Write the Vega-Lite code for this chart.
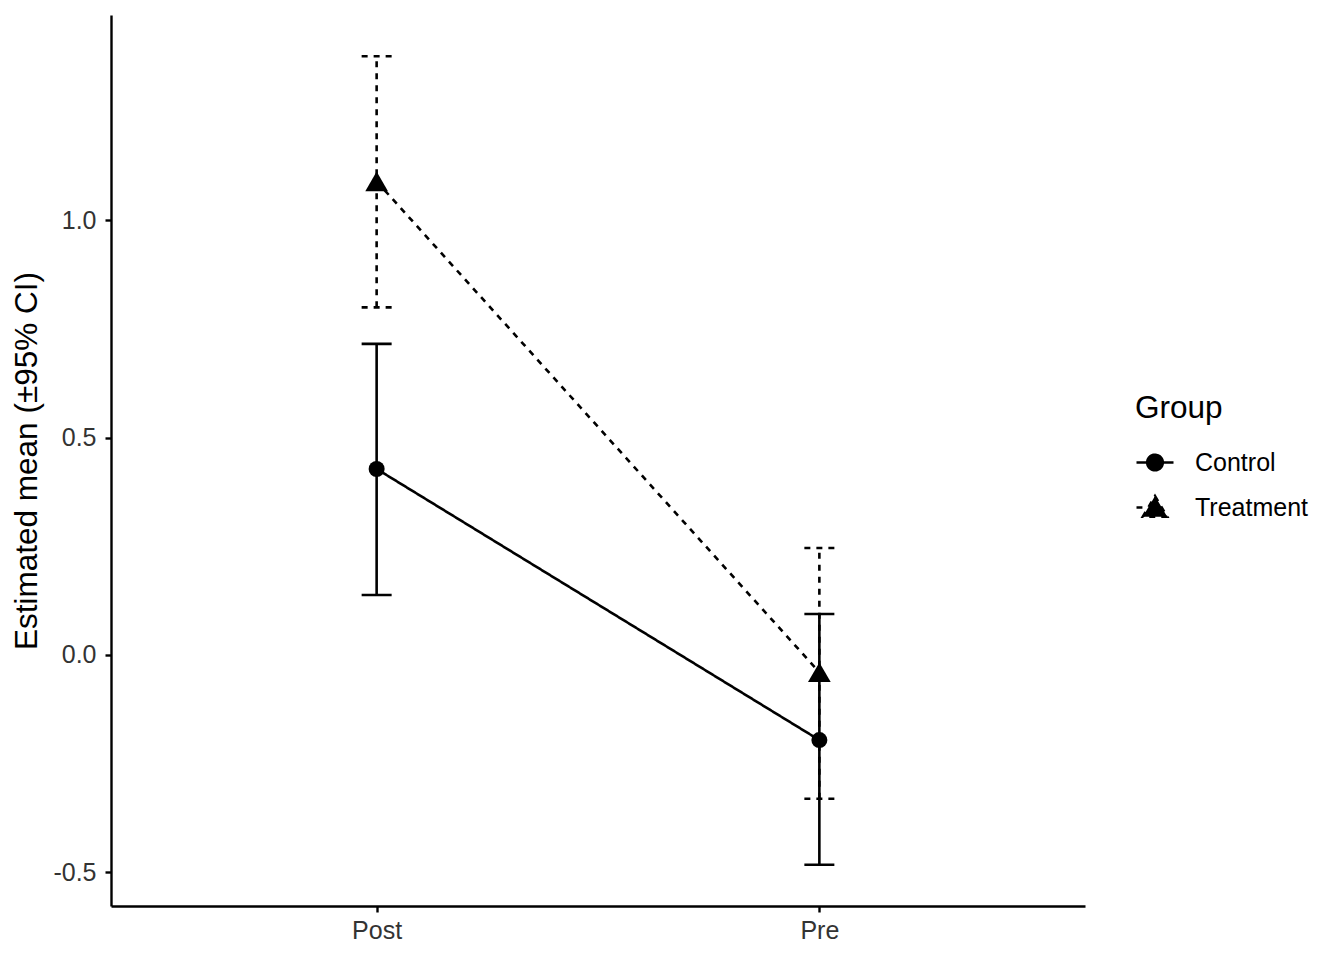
{
  "$schema": "https://vega.github.io/schema/vega-lite/v6.json",
  "autosize": {"type": "none"},
  "padding": {"left": 111, "top": 15, "right": 259, "bottom": 54},
  "width": 974,
  "height": 891,
  "background": "white",
  "config": {
    "font": "Liberation Sans",
    "view": {"stroke": null}
  },
  "data": {"values": [
    {"time": "Post", "group": "Control", "mean": 0.428, "lo": 0.138, "hi": 0.716},
    {"time": "Pre", "group": "Control", "mean": -0.196, "lo": -0.483, "hi": 0.094},
    {"time": "Post", "group": "Treatment", "mean": 1.09, "lo": 0.80, "hi": 1.378},
    {"time": "Pre", "group": "Treatment", "mean": -0.04, "lo": -0.331, "hi": 0.246}
  ]},
  "encoding": {
    "x": {"field": "time", "type": "nominal", "sort": ["Post", "Pre"], "scale": {"type": "point", "padding": 0.6},
      "axis": {"title": null, "labelAngle": 0, "labelPadding": 6, "grid": false, "domainColor": "black", "domainWidth": 2.4, "tickColor": "black", "tickWidth": 2.4, "tickSize": 6, "labelFontSize": 25, "labelColor": "#333333", "labelFont": "Liberation Sans"}}
  },
  "layer": [
    {
      "mark": {"type": "rule", "strokeWidth": 2.6, "color": "black"},
      "encoding": {
        "y": {"field": "lo", "type": "quantitative", "scale": {"domain": [-0.578, 1.473], "nice": false, "zero": false},
          "axis": {"title": "Estimated mean (±95% CI)", "values": [-0.5, 0, 0.5, 1.0], "format": ".1f", "labelExpr": "replace(datum.label, '−', '-')", "labelPadding": 9, "titlePadding": 9, "grid": false, "domainColor": "black", "domainWidth": 2.4, "tickColor": "black", "tickWidth": 2.4, "tickSize": 6, "labelFontSize": 25, "labelColor": "#333333", "labelFont": "Liberation Sans", "titleFont": "Liberation Sans", "titleFontWeight": "normal", "titleFontSize": 31.5, "titleColor": "black"}},
        "y2": {"field": "hi"},
        "strokeDash": {"field": "group", "type": "nominal", "scale": {"domain": ["Control", "Treatment"], "range": [[1, 0], [6, 6]]},
          "legend": {
            "title": "Group", "orient": "none", "legendX": 1024, "legendY": 378, "padding": 0,
            "titleFont": "Liberation Sans", "labelFont": "Liberation Sans",
            "titleFontSize": 31.5, "titleFontWeight": "normal", "titleColor": "black", "titlePadding": 18,
            "labelFontSize": 25, "labelColor": "black", "labelOffset": 20, "rowPadding": 12,
            "symbolSize": 1369, "symbolFillColor": "black", "symbolStrokeColor": "black", "symbolStrokeWidth": 2.6,
            "encode": {"symbols": {"update": {
              "shape": {"signal": "datum.value === 'Control' ? 'M-1,0H1M0.42,0A0.42,0.42,0,1,1,-0.42,0A0.42,0.42,0,1,1,0.42,0Z' : 'M-1,0H-0.68M0,-0.62L0.66,0.5L-0.66,0.5Z'"},
              "fill": {"value": "black"},
              "stroke": {"value": "black"},
              "strokeDash": {"value": []},
              "opacity": {"value": 1}
            }}}
          }}
      }
    },
    {
      "mark": {"type": "rule", "strokeWidth": 2.6, "color": "black", "xOffset": -15, "x2Offset": 15},
      "encoding": {
        "x2": {"field": "time"},
        "y": {"field": "hi", "type": "quantitative"},
        "strokeDash": {"field": "group", "type": "nominal"}
      }
    },
    {
      "mark": {"type": "rule", "strokeWidth": 2.6, "color": "black", "xOffset": -15, "x2Offset": 15},
      "encoding": {
        "x2": {"field": "time"},
        "y": {"field": "lo", "type": "quantitative"},
        "strokeDash": {"field": "group", "type": "nominal"}
      }
    },
    {
      "mark": {"type": "line", "strokeWidth": 2.6, "color": "black"},
      "encoding": {
        "y": {"field": "mean", "type": "quantitative"},
        "detail": {"field": "group"},
        "strokeDash": {"field": "group", "type": "nominal"}
      }
    },
    {
      "transform": [{"filter": "datum.group === 'Control'"}],
      "mark": {"type": "point", "shape": "circle", "filled": true, "opacity": 1, "color": "black", "size": 256},
      "encoding": {
        "y": {"field": "mean", "type": "quantitative"}
      }
    },
    {
      "transform": [{"filter": "datum.group === 'Treatment'"}],
      "mark": {"type": "point", "shape": "triangle-up", "filled": true, "opacity": 1, "color": "black", "size": 515},
      "encoding": {
        "y": {"field": "mean", "type": "quantitative"}
      }
    }
  ]
}
